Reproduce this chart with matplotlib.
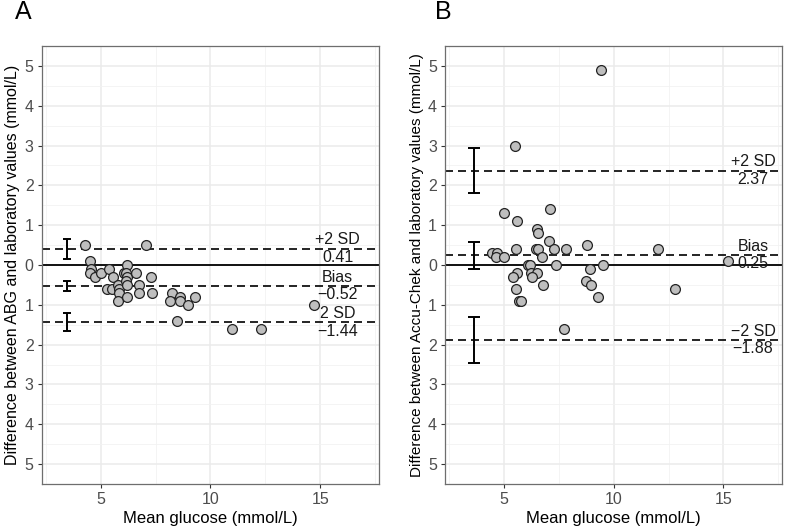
import matplotlib
matplotlib.use("Agg")
import matplotlib.pyplot as plt

plt.rcParams['font.family'] = ['Liberation Sans', 'DejaVu Sans']

# ---------------- data ----------------
a_mean = [4.3, 7.05, 4.5, 4.55, 4.5, 4.75, 5.0, 5.4, 5.55, 5.3, 5.5, 5.8, 5.85,
          5.85, 5.8, 6.05, 6.2, 6.15, 6.2, 6.15, 6.2, 6.2, 6.6, 6.75, 6.75, 7.3,
          7.35, 8.25, 8.15, 8.6, 8.6, 9.0, 9.3, 8.5, 11.0, 12.3, 14.7]
a_diff = [0.5, 0.5, 0.1, -0.1, -0.2, -0.3, -0.2, -0.1, -0.3, -0.6, -0.6, -0.5, -0.6,
          -0.7, -0.9, -0.2, 0.0, -0.2, -0.3, -0.4, -0.5, -0.8, -0.2, -0.5, -0.7, -0.3,
          -0.7, -0.7, -0.9, -0.8, -0.9, -1.0, -0.8, -1.4, -1.6, -1.6, -1.0]

b_mean = [9.4, 5.5, 5.0, 5.6, 7.1, 6.5, 6.55, 7.05, 8.8, 4.45, 4.7, 4.65, 5.0,
          5.55, 6.45, 6.55, 7.3, 7.85, 12.0, 6.75, 6.1, 6.2, 7.35, 9.5, 8.9,
          6.25, 6.5, 5.6, 5.4, 6.3, 6.8, 8.75, 8.95, 9.3, 5.55, 5.7, 5.8, 7.75,
          12.8, 15.2]
b_diff = [4.9, 3.0, 1.3, 1.1, 1.4, 0.9, 0.8, 0.6, 0.5, 0.3, 0.3, 0.2, 0.2,
          0.4, 0.4, 0.4, 0.4, 0.4, 0.4, 0.2, 0.0, 0.0, 0.0, 0.0, -0.1,
          -0.2, -0.2, -0.2, -0.3, -0.3, -0.5, -0.4, -0.5, -0.8, -0.6, -0.9, -0.9, -1.6,
          -0.6, 0.1]

# limits of agreement: upper, bias, lower
a_limits = [0.41, -0.52, -1.44]
a_ci_low = [0.16, -0.65, -1.67]
a_ci_high = [0.66, -0.39, -1.21]
a_labels = ["+2 SD", "Bias", "2 SD"]
a_values = ["0.41", "\u22120.52", "\u22121.44"]

b_limits = [2.37, 0.25, -1.88]
b_ci_low = [1.80, -0.09, -2.46]
b_ci_high = [2.95, 0.58, -1.30]
b_labels = ["+2 SD", "Bias", "\u22122 SD"]
b_values = ["2.37", "0.25", "\u22121.88"]

y_ticks = [5, 4, 3, 2, 1, 0, -1, -2, -3, -4, -5]
y_ticklabels = ["5", "4", "3", "2", "1", "0", "1", "2", "3", "4", "5"]
x_ticks = [5, 10, 15]

a_ylabel = "Difference between ABG and laboratory values (mmol/L)"
b_ylabel = "Difference between Accu-Chek and laboratory values (mmol/L)"
x_label = "Mean glucose (mmol/L)"

# ---------------- figure ----------------
W, H = 786, 529
fig = plt.figure(figsize=(W / 100, H / 100), dpi=100)

def panel(rect, mx, dy, limits, lo, hi, labels, values, ylabel, letter,
          ci_x, text_x, cap, letter_pos, ylab_size):
    ax = fig.add_axes(rect)
    ax.set_xlim(2.33, 17.68)
    ax.set_ylim(-5.45, 5.5)
    ax.set_xticks(x_ticks)
    ax.set_xticks([2.5, 7.5, 12.5, 17.5], minor=True)
    ax.set_yticks(y_ticks)
    ax.set_yticklabels(y_ticklabels)
    ax.set_yticks([v + 0.5 for v in range(-6, 6)], minor=True)
    ax.grid(True, which='major', color='#EBEBEB', lw=1.1, zorder=0)
    ax.grid(True, which='minor', color='#F2F2F2', lw=0.6, zorder=0)
    ax.set_axisbelow(True)
    for s in ax.spines.values():
        s.set_color('#6E6E6E')
        s.set_linewidth(0.9)
    ax.tick_params(which='major', length=3, color='#333333', width=0.8,
                   labelsize=11.5, labelcolor='#4D4D4D', pad=3)
    ax.tick_params(which='minor', length=0)

    ax.axhline(0, color='black', lw=1.3, zorder=2)
    for v in limits:
        ax.axhline(v, color='black', lw=1.2, ls=(0, (4.8, 3.0)), zorder=2)
    for v, l, h in zip(limits, lo, hi):
        ax.errorbar([ci_x], [v], yerr=[[v - l], [h - v]], fmt='none',
                    ecolor='black', elinewidth=1.4, capsize=cap, capthick=1.4,
                    zorder=3)
    ax.scatter(mx, dy, s=50, facecolor='#BEBEBE', edgecolor='#222222',
               linewidths=0.9, zorder=4)
    for v, lab, val in zip(limits, labels, values):
        ax.text(text_x, v + 0.03, lab, ha='center', va='bottom', fontsize=11.5,
                color='#1A1A1A', zorder=5)
        ax.text(text_x, v - 0.03, val, ha='center', va='top', fontsize=11.5,
                color='#1A1A1A', zorder=5)
    ax.set_xlabel(x_label, fontsize=12, labelpad=3, color='black')
    ax.set_ylabel(ylabel, fontsize=ylab_size, labelpad=3, color='black')
    fig.text(letter_pos[0], letter_pos[1], letter, fontsize=18, ha='left',
             va='top')
    return ax

panel([42 / W, 1 - 484 / H, (379 - 42) / W, (484 - 46) / H],
      a_mean, a_diff, a_limits, a_ci_low, a_ci_high, a_labels, a_values,
      a_ylabel, "A", 3.45, 15.8, 3.0, (15 / W, 1 - 0 / H), 11.5)
panel([445.3 / W, 1 - 484 / H, (782.3 - 445.3) / W, (484 - 46) / H],
      b_mean, b_diff, b_limits, b_ci_low, b_ci_high, b_labels, b_values,
      b_ylabel, "B", 3.66, 16.35, 4.0, (435 / W, 1 - 0 / H), 11.0)

fig.savefig("out.png", dpi=100)
